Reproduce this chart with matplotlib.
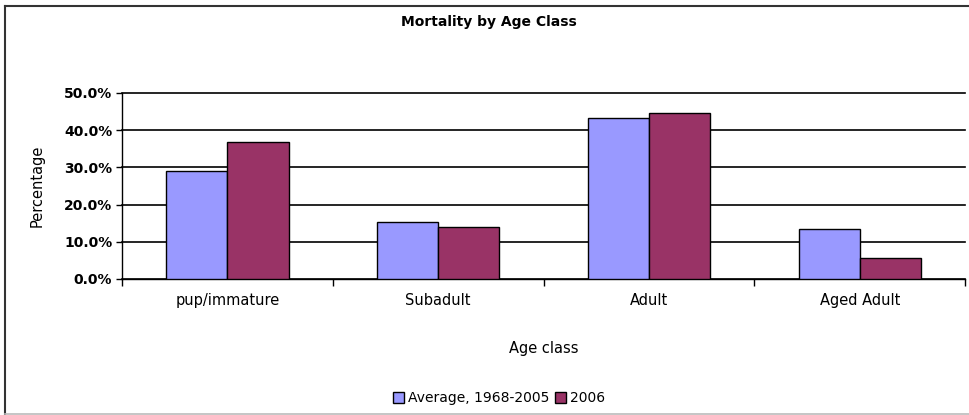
import matplotlib
matplotlib.use("Agg")
import matplotlib.pyplot as plt
import numpy as np
from matplotlib.lines import Line2D

categories = ["pup/immature", "Subadult", "Adult", "Aged Adult"]
average_1968_2005 = [29.0, 15.2, 43.2, 13.4]
y2006 = [36.7, 14.0, 44.7, 5.7]
series_labels = ["Average, 1968-2005", "2006"]
yticks = [0, 10, 20, 30, 40, 50]

fig = plt.figure(figsize=(9.69, 4.15), dpi=100)
ax = fig.add_axes([0.126, 0.328, 0.870, 0.448])

x = np.arange(len(categories))
w = 0.29
b1 = ax.bar(x - w / 2, average_1968_2005, w, color="#9999FF", edgecolor="black", linewidth=1, zorder=3)
b2 = ax.bar(x + w / 2, y2006, w, color="#993366", edgecolor="black", linewidth=1, zorder=3)

ax.set_xlim(-0.5, len(categories) - 0.5)
ax.set_ylim(0, 50)
ax.set_yticks(yticks)
ax.set_yticklabels(["%.1f%%" % v for v in yticks], fontsize=10, fontweight="bold")
ax.yaxis.grid(True, color="black", linewidth=1.2, zorder=0)
for gl in ax.get_ygridlines():
    gl.set_clip_on(False)
ax.tick_params(axis="y", length=4, width=1, pad=3)

ax.set_xticks(x)
ax.set_xticklabels(categories, fontsize=10.5)
ax.tick_params(axis="x", length=0, pad=10)
ax.set_xticks(np.arange(-0.5, len(categories)), minor=True)
ax.tick_params(axis="x", which="minor", length=5, width=1)

for s in ["top", "right"]:
    ax.spines[s].set_visible(False)
ax.spines["left"].set_linewidth(1)
ax.spines["bottom"].set_linewidth(1)

ax.set_xlabel("Age class", fontsize=10.5, labelpad=24)
ax.set_ylabel("Percentage", fontsize=10.5, labelpad=14)

fig.text(0.505, 0.948, "Mortality by Age Class", ha="center", va="center", fontsize=10, fontweight="bold")

fig.legend([b1, b2], series_labels, loc="center", bbox_to_anchor=(0.515, 0.04), ncol=2,
           frameon=False, fontsize=10, handlelength=0.8, handleheight=0.8, handletextpad=0.3,
           columnspacing=0.4)

# outer chart border: dark left and top, light bottom
fig.lines.append(Line2D([0.005, 0.005], [0.003, 0.986], transform=fig.transFigure, color="#333333", linewidth=1.5))
fig.lines.append(Line2D([0.005, 1.0], [0.986, 0.986], transform=fig.transFigure, color="#333333", linewidth=1.5))
fig.lines.append(Line2D([0.005, 1.0], [0.002, 0.002], transform=fig.transFigure, color="#bbbbbb", linewidth=1.2))

fig.savefig("out.png", dpi=100)
